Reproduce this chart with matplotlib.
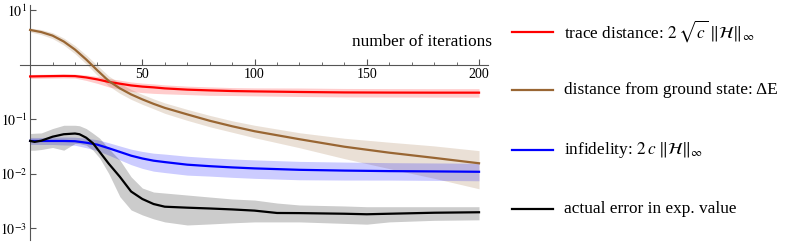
import matplotlib
matplotlib.use("Agg")
import matplotlib.pyplot as plt
from matplotlib.lines import Line2D
from matplotlib.ticker import FixedLocator, NullLocator

plt.rcParams['font.family'] = ['Liberation Serif', 'DejaVu Serif']
plt.rcParams['mathtext.fontset'] = 'stix'

iters = [0, 5, 10, 15, 20, 25, 30, 35, 40, 45, 50, 55, 60, 70, 80, 90, 100, 120, 140, 160, 180, 200]

# trace distance
red = [0.611, 0.616, 0.62, 0.624, 0.62, 0.586, 0.539, 0.485, 0.45, 0.418, 0.398, 0.385, 0.369,
       0.35, 0.339, 0.33, 0.325, 0.317, 0.311, 0.309, 0.308, 0.308]
red_hi = [0.665, 0.670, 0.675, 0.679, 0.675, 0.650, 0.612, 0.562, 0.522, 0.484, 0.461, 0.446, 0.428,
          0.406, 0.393, 0.382, 0.377, 0.375, 0.368, 0.366, 0.365, 0.365]
red_lo = [0.562, 0.566, 0.570, 0.573, 0.570, 0.516, 0.455, 0.393, 0.357, 0.325, 0.309, 0.299, 0.293,
          0.284, 0.275, 0.273, 0.269, 0.262, 0.257, 0.256, 0.255, 0.255]

# distance from ground state
brown = [4.36, 3.98, 3.43, 2.67, 1.90, 1.25, 0.787, 0.506, 0.369, 0.286, 0.232, 0.192, 0.162,
         0.123, 0.094, 0.0745, 0.0604, 0.0431, 0.0314, 0.0244, 0.0196, 0.0156]
brown_hi = [4.74, 4.42, 3.89, 3.09, 2.25, 1.51, 0.971, 0.624, 0.455, 0.353, 0.286, 0.237, 0.200,
            0.152, 0.118, 0.0939, 0.0777, 0.0567, 0.0449, 0.0380, 0.0325, 0.0266]
brown_lo = [4.01, 3.58, 3.02, 2.30, 1.60, 1.035, 0.638, 0.410, 0.299, 0.232, 0.188, 0.156, 0.1286,
            0.0956, 0.0730, 0.0579, 0.0459, 0.0301, 0.0190, 0.01244, 0.00827, 0.00531]

# infidelity
blue = [0.0401, 0.0400, 0.0400, 0.0400, 0.0396, 0.0372, 0.0342, 0.0295, 0.0252, 0.0215, 0.0191,
        0.0174, 0.0164, 0.0147, 0.0138, 0.0131, 0.01256, 0.01183, 0.01145, 0.0112, 0.01106, 0.01089]
blue_hi = [0.0465, 0.0464, 0.0466, 0.0473, 0.0469, 0.0449, 0.0422, 0.0372, 0.0324, 0.0283, 0.0257,
           0.0239, 0.0230, 0.0210, 0.0197, 0.0187, 0.0180, 0.0169, 0.0164, 0.0160, 0.0158, 0.0156]
blue_lo = [0.0346, 0.0345, 0.0344, 0.0338, 0.0334, 0.0301, 0.0266, 0.0220, 0.0180, 0.0147, 0.01255,
           0.01118, 0.01054, 0.00945, 0.00907, 0.00861, 0.00825, 0.00777, 0.00768, 0.00767, 0.00757, 0.00745]

# actual error in exp. value
iters_k = [0, 2, 5, 10, 15, 20, 22, 25, 28, 31, 35, 40, 45, 50, 55, 60, 70, 80, 90, 100, 110, 120,
           140, 150, 160, 180, 200]
black = [0.0401, 0.0385, 0.0405, 0.0479, 0.0532, 0.0548, 0.0532, 0.0459, 0.0364, 0.0252, 0.0154,
         0.0088, 0.00473, 0.00345, 0.00279, 0.00249, 0.00239, 0.00231, 0.00222, 0.00211, 0.00191,
         0.0019, 0.00185, 0.00181, 0.00185, 0.00193, 0.00197]
black_hi = [0.0548, 0.0555, 0.0562, 0.0676, 0.0777, 0.0777, 0.0761, 0.0676, 0.0555, 0.0449, 0.0291,
            0.0178, 0.0088, 0.00548, 0.00463, 0.00444, 0.00408, 0.00375, 0.00345, 0.00330, 0.00291,
            0.00268, 0.00257, 0.00249, 0.00249, 0.00249, 0.00249]
black_lo = [0.0271, 0.0271, 0.0279, 0.0304, 0.0271, 0.0360, 0.0357, 0.0335, 0.0271, 0.0194, 0.01017,
            0.0038, 0.00217, 0.00176, 0.00149, 0.00131, 0.00115, 0.0012, 0.00126, 0.00131, 0.00131,
            0.00131, 0.00123, 0.00119, 0.00131, 0.0014, 0.00143]

labels = [r'trace distance: $2\,\sqrt{c}\;\|\mathcal{H}\|_{\infty}$',
          'distance from ground state: \u0394E',
          r'infidelity: $2\,c\;\|\mathcal{H}\|_{\infty}$',
          'actual error in exp. value']
colors = ['#ff0000', '#996633', '#0000ff', '#000000']


def main():
    fig = plt.figure(figsize=(7.89, 2.44), dpi=100)
    ax = fig.add_axes([20 / 789, 4 / 244, 468 / 789, 235 / 244])

    series = [(iters, red, red_lo, red_hi),
              (iters, brown, brown_lo, brown_hi),
              (iters, blue, blue_lo, blue_hi),
              (iters_k, black, black_lo, black_hi)]
    for (x, y, lo, hi), c in zip(series, colors):
        ax.fill_between(x, lo, hi, color=c, alpha=0.2, lw=0, zorder=1)
    for (x, y, lo, hi), c in zip(series, colors):
        ax.plot(x, y, color=c, lw=1.6, zorder=3)

    ax.set_yscale('log')
    ax.set_xlim(-4.5, 204)
    ax.set_ylim(6.1e-4, 12.5)

    for s in ['top', 'right']:
        ax.spines[s].set_visible(False)
    ax.spines['left'].set_position(('data', 0))
    ax.spines['bottom'].set_position(('data', 1))
    for s in ['left', 'bottom']:
        ax.spines[s].set_color('#555555')
        ax.spines[s].set_linewidth(0.8)

    ax.xaxis.set_major_locator(FixedLocator([50, 100, 150, 200]))
    ax.xaxis.set_minor_locator(FixedLocator([10, 20, 30, 40, 60, 70, 80, 90, 110, 120, 130, 140,
                                             160, 170, 180, 190]))
    ax.set_xticklabels(['50', '100', '150', '200'])
    ax.yaxis.set_major_locator(FixedLocator([1e1, 1e-1, 1e-2, 1e-3]))
    ax.yaxis.set_minor_locator(NullLocator())
    ax.set_yticklabels([r'$10^{1}$', r'$10^{-1}$', r'$10^{-2}$', r'$10^{-3}$'])
    ax.tick_params(which='both', direction='in', color='#555555', labelsize=10, pad=2)
    ax.tick_params(which='major', length=4, width=0.8)
    ax.tick_params(which='minor', length=2.5, width=0.6)
    ax.patch.set_visible(False)

    fig.text(492 / 789, 1 - 42 / 244, 'number of iterations', ha='right', va='center', fontsize=12.4)

    # legend drawn on the figure
    ys = [31.5, 90, 150, 209]
    for yy, c, lab in zip(ys, colors, labels):
        fy = 1 - yy / 244
        fig.add_artist(Line2D([512 / 789, 553 / 789], [fy, fy], color=c, lw=1.6))
        fig.text(564 / 789, fy, lab, ha='left', va='center', fontsize=12.4)

    fig.savefig('out.png', dpi=100)
    print('saved')


if __name__ == '__main__':
    main()
